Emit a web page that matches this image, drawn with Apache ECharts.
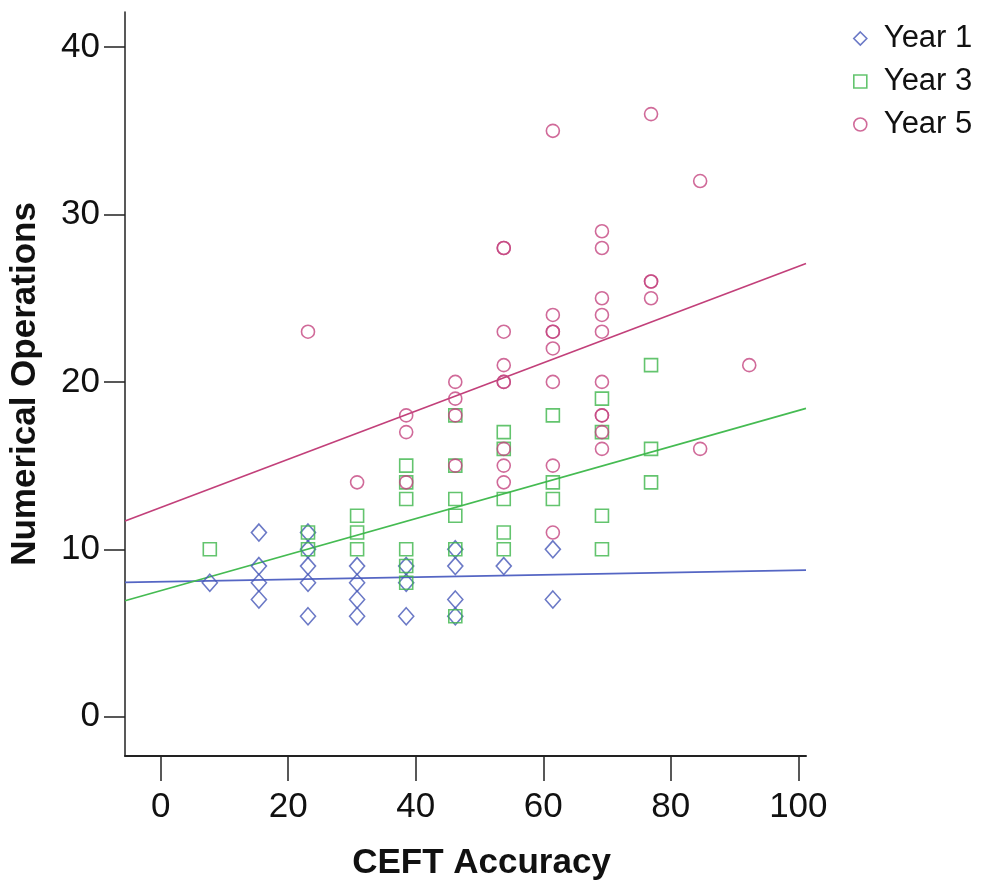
<!DOCTYPE html>
<html>
<head>
<meta charset="utf-8">
<script src="https://cdn.jsdelivr.net/npm/echarts@6/dist/echarts.min.js"></script>
<style>
  html, body { margin: 0; padding: 0; background: #fff; }
  #chart { width: 986px; height: 886px; }
</style>
</head>
<body>
<div id="chart"></div>
<script>
// ---- Data ----
const seriesNames = ['Year 1', 'Year 3', 'Year 5'];

// Year 1 (diamonds)
const year1X = [7.7,
  15.4, 15.4, 15.4, 15.4,
  23.1, 23.1, 23.1, 23.1, 23.1,
  30.8, 30.8, 30.8, 30.8,
  38.5, 38.5, 38.5,
  46.2, 46.2, 46.2, 46.2,
  53.8,
  61.5, 61.5];
const year1Y = [8,
  11, 9, 8, 7,
  11, 10, 9, 8, 6,
  9, 8, 7, 6,
  9, 8, 6,
  10, 9, 7, 6,
  9,
  10, 7];

// Year 3 (squares)
const year3X = [7.7,
  23.1, 23.1,
  30.8, 30.8, 30.8,
  38.5, 38.5, 38.5, 38.5, 38.5, 38.5,
  46.2, 46.2, 46.2, 46.2, 46.2, 46.2,
  53.8, 53.8, 53.8, 53.8, 53.8,
  61.5, 61.5, 61.5,
  69.2, 69.2, 69.2, 69.2,
  76.9, 76.9, 76.9];
const year3Y = [10,
  11, 10,
  12, 11, 10,
  15, 14, 13, 10, 9, 8,
  18, 15, 13, 12, 10, 6,
  17, 16, 13, 11, 10,
  18, 14, 13,
  19, 17, 12, 10,
  21, 16, 14];

// Year 5 (circles)
const year5X = [23.1,
  30.8,
  38.5, 38.5, 38.5,
  46.2, 46.2, 46.2, 46.2,
  53.8, 53.8, 53.8, 53.8, 53.8, 53.8, 53.8, 53.8, 53.8,
  61.5, 61.5, 61.5, 61.5, 61.5, 61.5, 61.5, 61.5,
  69.2, 69.2, 69.2, 69.2, 69.2, 69.2, 69.2, 69.2, 69.2, 69.2,
  76.9, 76.9, 76.9, 76.9,
  84.6, 84.6,
  92.3];
const year5Y = [23,
  14,
  18, 17, 14,
  20, 19, 18, 15,
  28, 28, 23, 21, 20, 20, 16, 15, 14,
  35, 24, 23, 23, 22, 20, 15, 11,
  29, 28, 25, 24, 23, 20, 18, 18, 17, 16,
  36, 26, 26, 25,
  32, 16,
  21];

// Fit lines (intercept, slope)
const fitIntercept = [8.06, 7.53, 12.5];
const fitSlope = [0.0069, 0.1076, 0.144];

// Axis ticks
const xTicks = [0, 20, 40, 60, 80, 100];
const yTicks = [0, 10, 20, 30, 40];
const xRange = [-5.6, 101.2];
const yRange = [-2.35, 42.1];

// ---- Styling ----
const colors = ['#4657b8', '#3cb54a', '#c4457f'];
const lineColors = ['#5566c4', '#45bb52', '#c2407a'];
const symbols = ['diamond', 'rect', 'circle'];
const symbolSizes = [[15, 17], 13, 13];
const FONT = '"Liberation Sans", Arial, sans-serif';

function zip(xs, ys) { return xs.map((x, i) => [x, ys[i]]); }
const pointSets = [zip(year1X, year1Y), zip(year3X, year3Y), zip(year5X, year5Y)];

const series = [];
for (let i = 0; i < 3; i++) {
  series.push({
    name: seriesNames[i] + ' fit',
    type: 'line',
    data: [
      [xRange[0], fitIntercept[i] + fitSlope[i] * xRange[0]],
      [xRange[1], fitIntercept[i] + fitSlope[i] * xRange[1]]
    ],
    showSymbol: false,
    symbol: 'none',
    lineStyle: { color: lineColors[i], width: 1.7 },
    silent: true,
    z: 1
  });
}
for (let i = 0; i < 3; i++) {
  series.push({
    name: seriesNames[i],
    type: 'scatter',
    data: pointSets[i],
    symbol: symbols[i],
    symbolSize: symbolSizes[i],
    itemStyle: { color: 'rgba(255,255,255,0)', borderColor: colors[i], borderWidth: 1.6 },
    z: 2
  });
}

const chart = echarts.init(document.getElementById('chart'), null, { renderer: 'canvas' });
chart.setOption({
  animation: false,
  backgroundColor: '#fff',
  textStyle: { fontFamily: FONT },
  grid: { left: 124, top: 12, right: 180, bottom: 129, containLabel: false },
  legend: {
    data: seriesNames.map((n, i) => ({
      name: n,
      icon: symbols[i],
      itemStyle: { color: 'rgba(255,255,255,0)', borderColor: colors[i], borderWidth: 1.6 }
    })),
    orient: 'vertical',
    left: 848,
    top: 18,
    itemWidth: 13,
    itemHeight: 13,
    itemGap: 12,
    textStyle: { fontFamily: FONT, fontSize: 31, color: '#111', lineHeight: 30, padding: [0, 0, 0, 12] }
  },
  xAxis: {
    type: 'value',
    min: xRange[0],
    max: xRange[1],
    name: 'CEFT Accuracy',
    nameLocation: 'middle',
    nameGap: 90,
    nameTextStyle: { fontFamily: FONT, fontSize: 35, fontWeight: 'bold', color: '#111', padding: [0, 0, 0, 32] },
    axisLine: { onZero: false, lineStyle: { color: '#222', width: 2 } },
    axisTick: { show: true, length: 25, customValues: xTicks, lineStyle: { color: '#222', width: 1.5 } },
    axisLabel: { customValues: xTicks, margin: 34, fontFamily: FONT, fontSize: 35, color: '#111' },
    splitLine: { show: false }
  },
  yAxis: {
    type: 'value',
    min: yRange[0],
    max: yRange[1],
    name: 'Numerical Operations',
    nameLocation: 'middle',
    nameGap: 82,
    nameTextStyle: { fontFamily: FONT, fontSize: 35, fontWeight: 'bold', color: '#111', padding: [0, 0, 0, 0] },
    axisLine: { onZero: false, lineStyle: { color: '#222', width: 1.5 } },
    axisTick: { show: true, length: 21, customValues: yTicks, lineStyle: { color: '#222', width: 1.5 } },
    axisLabel: { customValues: yTicks, margin: 25, fontFamily: FONT, fontSize: 35, color: '#111' },
    splitLine: { show: false }
  },
  series: series
});
</script>
</body>
</html>
